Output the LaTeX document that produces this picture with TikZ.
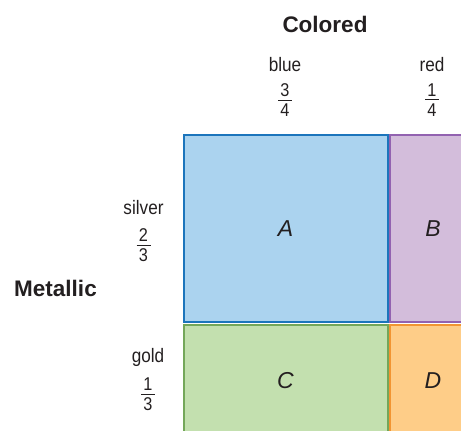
\documentclass[tikz,border=0pt]{standalone}
\usepackage{fontspec}
\setmainfont{Liberation Sans}
\newfontfamily\condfont[FakeStretch=0.88]{Liberation Sans}
\definecolor{txt}{HTML}{231F20}
\definecolor{blueF}{HTML}{ABD3EF}
\definecolor{blueD}{HTML}{1C75BC}
\definecolor{purF}{HTML}{D3BDDB}
\definecolor{purD}{HTML}{9262B0}
\definecolor{grnF}{HTML}{C3E0AF}
\definecolor{grnD}{HTML}{74A75A}
\definecolor{orF}{HTML}{FECD88}
\definecolor{orD}{HTML}{F29532}
\newcommand\myfr[2]{\vbox{\hbox to 14pt{\hss#1\hss}\kern3pt\hrule height0.9pt\kern3.3pt\hbox to 14pt{\hss#2\hss}}}
\tikzset{
  cell/.style={draw=#1D, fill=#1F, line width=2pt, anchor=north west, inner sep=0pt,
    font=\fontsize{23}{26}\selectfont\itshape, text=txt},
  head/.style={font=\fontsize{22.5}{26}\selectfont\bfseries, text=txt, inner sep=0pt},
  lab/.style={font=\fontsize{19.5}{22}\selectfont\condfont, text=txt, inner sep=0pt},
  frac/.style={font=\fontsize{18.5}{20}\selectfont\condfont, text=txt, inner sep=0pt},
}
\begin{document}
\begin{tikzpicture}[x=1pt,y=-1pt]
\useasboundingbox (0,0) rectangle (461,431);
\clip (0,0) rectangle (461,431);
\node[cell=blue, minimum width=204pt, minimum height=187.5pt] (A) at (182.5,133.5) {A};
\node[cell=pur, minimum width=87pt, minimum height=187.5pt] (B) at (388.5,133.5) {B};
\node[cell=grn, minimum width=204pt, minimum height=113pt] (C) at (182.5,323.5) {C};
\node[cell=or, minimum width=87pt, minimum height=113pt] (D) at (388.5,323.5) {D};
\node[head] (colored) at (325,24) {Colored};
\node[head] (metallic) at (55.5,288) {Metallic};
\node[lab] (blue) at (285,64.5) {blue};
\node[frac] (bluefr) at (285,100) {\myfr{3}{4}};
\node[lab] (red) at (432,64.5) {red};
\node[frac] (redfr) at (432,100) {\myfr{1}{4}};
\node[lab] (silver) at (143.5,208) {silver};
\node[frac] (silverfr) at (143.5,245.5) {\myfr{2}{3}};
\node[lab] (gold) at (148,357.5) {gold};
\node[frac] (goldfr) at (148,394.5) {\myfr{1}{3}};
\end{tikzpicture}
\end{document}
